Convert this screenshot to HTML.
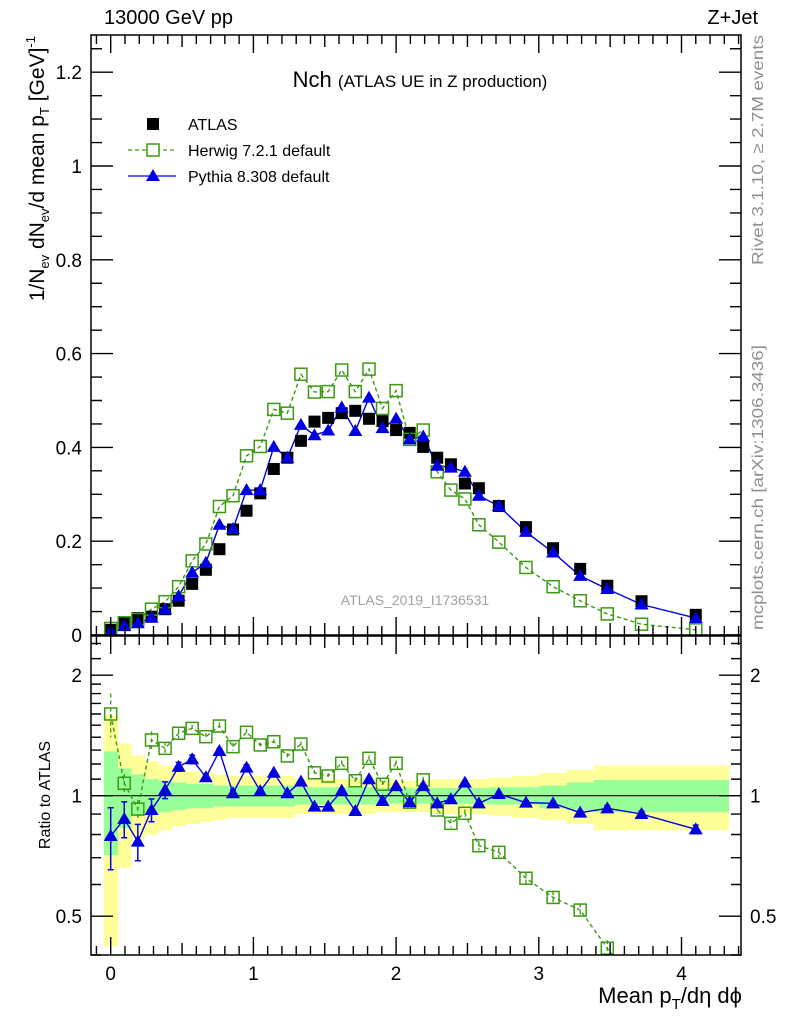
<!DOCTYPE html>
<html><head><meta charset="utf-8">
<style>
html,body{margin:0;padding:0;background:#fff;overflow:hidden;width:786px;height:1024px;}
svg{display:block;font-family:"Liberation Sans",sans-serif;}
</style></head>
<body>
<svg id="chart" width="786" height="1024" viewBox="0 0 786 1024" xmlns="http://www.w3.org/2000/svg">
<defs>
<clipPath id="clipMain"><rect x="91" y="35" width="650" height="600"/></clipPath>
<clipPath id="clipRatio"><rect x="91" y="636" width="650" height="319"/></clipPath>
</defs>
<g id="bands" clip-path="url(#clipRatio)"></g>
<g id="marks"></g>
<g id="axes"></g>
<text x="104" y="24" font-size="20">13000 GeV pp</text>
<text x="758" y="24" font-size="20" text-anchor="end">Z+Jet</text>
<text x="420" y="87" text-anchor="middle" font-size="22">Nch <tspan font-size="17">(ATLAS UE in Z production)</tspan></text>
<text x="415" y="605" text-anchor="middle" font-size="14" fill="#a0a0a0">ATLAS_2019_I1736531</text>
<text transform="translate(763,265) rotate(-90)" font-size="16" fill="#909090" textLength="230" lengthAdjust="spacingAndGlyphs">Rivet 3.1.10, ≥ 2.7M events</text>
<text transform="translate(763,630) rotate(-90)" font-size="16" fill="#909090" textLength="285" lengthAdjust="spacingAndGlyphs">mcplots.cern.ch [arXiv:1306.3436]</text>
<text transform="translate(44,36) rotate(-90)" font-size="21" text-anchor="end">1/N<tspan font-size="13" dy="5">ev</tspan><tspan dy="-5"> dN</tspan><tspan font-size="13" dy="5">ev</tspan><tspan dy="-5">/d mean p</tspan><tspan font-size="13" dy="5">T</tspan><tspan dy="-5">  [GeV]</tspan><tspan font-size="13" dy="-9">-1</tspan></text>
<text transform="translate(50,795) rotate(-90)" font-size="16" text-anchor="middle">Ratio to ATLAS</text>
<text x="742" y="1003" font-size="22" text-anchor="end">Mean p<tspan font-size="15" dy="6">T</tspan><tspan dy="-6">/dη dϕ</tspan></text>
<g>
<rect x="147" y="118" width="12" height="12" fill="#000"/>
<text x="188" y="130" font-size="16">ATLAS</text>
<line x1="128" y1="150" x2="176" y2="150" stroke="#3a9a10" stroke-width="1.3" stroke-dasharray="4,3"/>
<rect x="147" y="144" width="12" height="12" fill="#fff" stroke="#3a9a10" stroke-width="1.5"/>
<text x="188" y="156" font-size="16">Herwig 7.2.1 default</text>
<line x1="128" y1="176" x2="176" y2="176" stroke="#0000e0" stroke-width="1.3"/>
<polygon points="153,169 160,181 146,181" fill="#0000e0"/>
<text x="188" y="182" font-size="16">Pythia 8.308 default</text>
</g>
</svg>
<script>
const xs = [0,0.095,0.19,0.286,0.381,0.476,0.571,0.667,0.762,0.857,0.952,1.048,1.143,1.238,1.333,1.428,1.524,1.619,1.714,1.81,1.905,2.0,2.095,2.19,2.288,2.384,2.482,2.58,2.72,2.91,3.10,3.29,3.48,3.72,4.10];
const atlasVals = [0.011,0.025,0.036,0.039,0.055,0.073,0.109,0.139,0.183,0.225,0.265,0.302,0.354,0.378,0.414,0.455,0.463,0.473,0.478,0.461,0.456,0.437,0.431,0.401,0.378,0.364,0.323,0.313,0.275,0.230,0.185,0.141,0.105,0.072,0.043];
const herwigVals = [0.014,0.026,0.033,0.055,0.071,0.103,0.158,0.194,0.274,0.297,0.382,0.402,0.481,0.473,0.556,0.518,0.519,0.565,0.519,0.567,0.483,0.521,0.417,0.437,0.348,0.309,0.290,0.235,0.198,0.144,0.103,0.073,0.045,0.023,0.011];
const pythiaVals = [0.007,0.019,0.025,0.037,0.055,0.083,0.133,0.154,0.235,0.226,0.309,0.309,0.401,0.378,0.448,0.426,0.436,0.485,0.435,0.506,0.441,0.461,0.417,0.423,0.361,0.357,0.348,0.297,0.275,0.220,0.176,0.126,0.098,0.065,0.036];
const herwigRatio = [1.60,1.074,0.926,1.378,1.313,1.432,1.473,1.404,1.493,1.326,1.440,1.339,1.364,1.257,1.346,1.141,1.120,1.205,1.090,1.240,1.068,1.205,0.963,1.095,0.921,0.853,0.904,0.750,0.722,0.622,0.557,0.518,0.416,0.32,0.16];
const pythiaRatio = [0.793,0.875,0.768,0.921,1.033,1.181,1.233,1.112,1.293,1.014,1.175,1.027,1.141,1.014,1.084,0.939,0.939,1.029,0.916,1.099,0.970,1.057,0.963,1.057,0.957,0.980,1.078,0.957,1.010,0.961,0.957,0.907,0.930,0.900,0.824];
const herwigRatioErr = [0.2,0.06,0.05,0.07,0.05,0.04,0.03,0.03,0.03,0.03,0.03,0.02,0.02,0.02,0.02,0.02,0.02,0.02,0.02,0.02,0.02,0.02,0.02,0.02,0.02,0.02,0.02,0.02,0.02,0.02,0.02,0.02,0.02,0.02,0.02];
const pythiaRatioErr = [0.14,0.09,0.08,0.06,0.05,0.03,0.03,0.02,0.02,0.02,0.02,0.01,0.01,0.01,0.01,0.01,0.01,0.01,0.01,0.01,0.01,0.01,0.01,0.01,0.01,0.01,0.01,0.01,0.01,0.01,0.01,0.01,0.015,0.015,0.02];
const yellowUp = [1.59,1.35,1.26,1.22,1.19,1.17,1.15,1.14,1.13,1.12,1.12,1.12,1.12,1.12,1.10,1.10,1.10,1.10,1.10,1.10,1.09,1.09,1.09,1.09,1.10,1.10,1.10,1.10,1.11,1.12,1.14,1.16,1.19,1.19,1.19];
const yellowDn = [0.42,0.66,0.78,0.80,0.82,0.84,0.85,0.86,0.87,0.88,0.88,0.88,0.88,0.88,0.90,0.90,0.90,0.90,0.90,0.90,0.91,0.91,0.91,0.91,0.90,0.90,0.90,0.90,0.89,0.88,0.87,0.85,0.82,0.82,0.82];
const greenUp = [1.29,1.17,1.13,1.10,1.09,1.08,1.07,1.07,1.06,1.06,1.06,1.06,1.06,1.06,1.05,1.05,1.05,1.05,1.05,1.05,1.045,1.045,1.045,1.045,1.045,1.045,1.045,1.045,1.05,1.05,1.06,1.08,1.095,1.095,1.095];
const greenDn = [0.71,0.83,0.89,0.90,0.91,0.92,0.93,0.93,0.94,0.94,0.94,0.94,0.94,0.94,0.95,0.95,0.95,0.95,0.95,0.95,0.955,0.955,0.955,0.955,0.955,0.955,0.955,0.955,0.95,0.95,0.93,0.92,0.91,0.91,0.91];
const mainTicks = ["0","0.2","0.4","0.6","0.8","1","1.2"];
const xTickLabels = ["0","1","2","3","4"];
const ratioTickLabels = ["0.5","1","2"];

const NS="http://www.w3.org/2000/svg";
const L=91,R=741,MT=35,MB=635,RT=636,RB=955;
const X=v=>110.7+v*142.7;
const Y=v=>635-v*469;
const YR=v=>795.7-Math.log2(v)*120.5;
function mk(tag,attrs,parent){const e=document.createElementNS(NS,tag);for(const k in attrs)e.setAttribute(k,attrs[k]);parent.appendChild(e);return e;}
const bands=document.getElementById('bands'),marks=document.getElementById('marks'),axes=document.getElementById('axes');

const edges=[];
for(let i=0;i<=xs.length;i++){
  if(i===0)edges.push(xs[0]-(xs[1]-xs[0])/2);
  else if(i===xs.length)edges.push(4.33);
  else edges.push((xs[i-1]+xs[i])/2);
}
for(let i=0;i<xs.length;i++){
  const yb=mk('rect',{x:X(edges[i]),width:X(edges[i+1])-X(edges[i])+0.5,y:YR(yellowUp[i]),height:YR(yellowDn[i])-YR(yellowUp[i]),fill:'#ffff99'},bands);
  
  
}
for(let i=0;i<xs.length;i++){
  const gb=mk('rect',{x:X(edges[i]),width:X(edges[i+1])-X(edges[i])+0.5,y:YR(greenUp[i]),height:YR(greenDn[i])-YR(greenUp[i]),fill:'#99ff99'},bands);
  
  
}
const ref=mk('line',{x1:L,x2:R,y1:YR(1),y2:YR(1),stroke:'#000','stroke-width':1.2},bands);



const gm=mk('g',{'clip-path':'url(#clipMain)'},marks);
const hl=mk('polyline',{points:xs.map((x,i)=>X(x)+','+Y(herwigVals[i])).join(' '),fill:'none',stroke:'#3a9a10','stroke-width':1.4,'stroke-dasharray':'4,3'},gm);


const pl=mk('polyline',{points:xs.map((x,i)=>X(x)+','+Y(pythiaVals[i])).join(' '),fill:'none',stroke:'#0000e0','stroke-width':1.4},gm);


xs.forEach((x,i)=>{
  const a=mk('rect',{x:X(x)-6,y:Y(atlasVals[i])-6,width:12,height:12,fill:'#000'},gm);
  
  
});
xs.forEach((x,i)=>{
  const h=mk('rect',{x:X(x)-6,y:Y(herwigVals[i])-6,width:12,height:12,fill:'none',stroke:'#3a9a10','stroke-width':1.5},gm);
  
  
});
xs.forEach((x,i)=>{
  const px=X(x),py=Y(pythiaVals[i]);
  const p=mk('polygon',{points:`${px},${py-7} ${px+7},${py+5} ${px-7},${py+5}`,fill:'#0000e0'},gm);
  
  
});

const gr=mk('g',{'clip-path':'url(#clipRatio)'},marks);
const hr=mk('polyline',{points:xs.map((x,i)=>X(x)+','+YR(herwigRatio[i])).join(' '),fill:'none',stroke:'#3a9a10','stroke-width':1.4,'stroke-dasharray':'4,3'},gr);


const pr=mk('polyline',{points:xs.map((x,i)=>X(x)+','+YR(pythiaRatio[i])).join(' '),fill:'none',stroke:'#0000e0','stroke-width':1.4},gr);


xs.forEach((x,i)=>{
  const px=X(x);
  const e1=mk('line',{x1:px,x2:px,y1:YR(herwigRatio[i]+herwigRatioErr[i]),y2:YR(herwigRatio[i]-herwigRatioErr[i]),stroke:'#3a9a10','stroke-width':1.3,'stroke-dasharray':'4,3'},gr);
  
  
  const h=mk('rect',{x:px-6,y:YR(herwigRatio[i])-6,width:12,height:12,fill:'none',stroke:'#3a9a10','stroke-width':1.5},gr);
  
  
});
xs.forEach((x,i)=>{
  const px=X(x),py=YR(pythiaRatio[i]);
  const t=YR(pythiaRatio[i]+pythiaRatioErr[i]),b=YR(pythiaRatio[i]-pythiaRatioErr[i]);
  const e2=mk('path',{d:`M${px},${t}V${b}M${px-3},${t}H${px+3}M${px-3},${b}H${px+3}`,stroke:'#0000e0','stroke-width':1.5,fill:'none'},gr);
  
  
  const p=mk('polygon',{points:`${px},${py-7} ${px+7},${py+5} ${px-7},${py+5}`,fill:'#0000e0'},gr);
  
  
});

const f1=mk('rect',{x:L,y:MT,width:R-L,height:MB-MT,fill:'none',stroke:'#000','stroke-width':1.5},axes);


const f2=mk('rect',{x:L,y:RT,width:R-L,height:RB-RT,fill:'none',stroke:'#000','stroke-width':1.5},axes);



let td='';
for(let v=0;v<=1.27;v+=0.05){
  const y=Y(v);if(y<MT)break;
  const maj=Math.abs(v/0.2-Math.round(v/0.2))<1e-6;
  const len=maj?22:11;
  td+=`M${L},${y}h${len}M${R},${y}h${-len}`;
}
for(let k=-1;k<=46;k++){
  const v=k/10,x=X(v);if(x<L||x>R)continue;
  const len=k%10===0?18:(k%5===0?12:9);
  td+=`M${x},${MT}v${len}M${x},${MB}v${-len}M${x},${RT}v${len}M${x},${RB}v${-len}`;
}
const rmin=[0.4,0.6,0.7,0.8,0.9,1.1,1.2,1.3,1.4,1.5,1.6,1.7,1.8,1.9,2.2,2.4];
rmin.forEach(v=>{const y=YR(v);td+=`M${L},${y}h10M${R},${y}h-10`;});
[0.5,1,2].forEach(v=>{const y=YR(v);td+=`M${L},${y}h22M${R},${y}h-22`;});
const ticks=mk('path',{d:td,stroke:'#000','stroke-width':1.4,fill:'none'},axes);



mainTicks.forEach(s=>{
  const t=mk('text',{x:82,y:Y(parseFloat(s))+7,'text-anchor':'end','font-size':19},axes);
  t.textContent=s;
  
  
});
xTickLabels.forEach(s=>{
  const t=mk('text',{x:X(parseFloat(s)),y:980,'text-anchor':'middle','font-size':19},axes);
  t.textContent=s;
  
  
});
ratioTickLabels.forEach(s=>{
  const y=YR(parseFloat(s))+7;
  const t=mk('text',{x:82,y:y,'text-anchor':'end','font-size':19},axes);
  t.textContent=s;
  
  
  const t2=mk('text',{x:750,y:y,'font-size':19},axes);
  t2.textContent=s;
  
  
});
</script>
</body></html>
